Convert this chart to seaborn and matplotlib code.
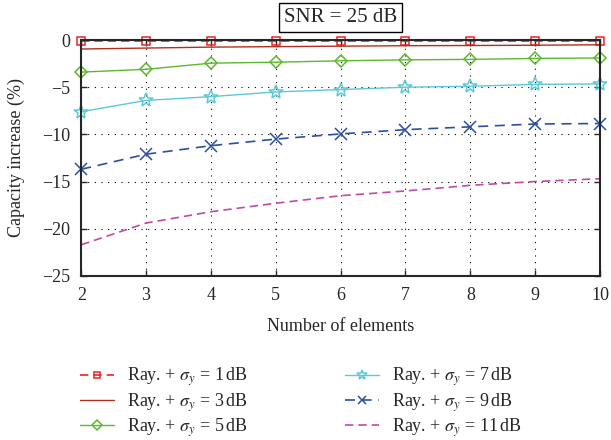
import numpy as np
import pandas as pd
import seaborn as sns
from matplotlib import pyplot as plt

elements = [2, 3, 4, 5, 6, 7, 8, 9, 10]
cap_1db = [-0.1, -0.1, -0.1, -0.1, -0.1, -0.1, -0.1, -0.1, -0.1]
cap_3db = [-0.95, -0.85, -0.75, -0.7, -0.65, -0.6, -0.58, -0.55, -0.5]
cap_5db = [-3.4, -3.1, -2.45, -2.35, -2.2, -2.1, -2.05, -1.95, -1.9]
cap_7db = [-7.6, -6.4, -6.0, -5.5, -5.25, -5.0, -4.9, -4.7, -4.65]
cap_9db = [-13.7, -12.1, -11.2, -10.5, -9.95, -9.5, -9.2, -8.9, -8.85]
cap_11db = [-21.7, -19.4, -18.2, -17.3, -16.5, -16.0, -15.4, -15.0, -14.7]
sigma_labels = ["1", "3", "5", "7", "9", "11"]

sns.set_style("ticks")
plt.rcParams['font.family'] = ['Liberation Serif', 'DejaVu Serif']
plt.rcParams['mathtext.fontset'] = 'stix'
plt.rcParams['axes.unicode_minus'] = True

series = [cap_1db, cap_3db, cap_5db, cap_7db, cap_9db, cap_11db]
colors = ['#e8262a', '#b0301e', '#5cb82e', '#5cc8d8', '#2c4fa3', '#c04aa8']
dashes = [(0, (5, 3)), '-', '-', '-', (0, (6, 4)), (0, (5, 3))]
markers = ['s', None, 'D', '*', 'x', None]
msizes = [6, 0, 6.5, 10, 8, 0]
widths = [1.2, 1.0, 1.0, 1.0, 1.2, 1.2]

fig, ax = plt.subplots(figsize=(6.11, 4.4), dpi=100)
fig.subplots_adjust(left=0.133, right=0.982, top=0.909, bottom=0.373)

for i, vals in enumerate(series):
    df = pd.DataFrame({'n': elements, 'cap': vals})
    sns.lineplot(data=df, x='n', y='cap', ax=ax, color=colors[i],
                 linestyle=dashes[i], lw=widths[i],
                 label=r'Ray. + $\sigma_y$ = ' + sigma_labels[i] + r'$\,$dB')
    line = ax.lines[-1]
    line.set_clip_on(False)
    if markers[i]:
        line.set_marker(markers[i])
        line.set_markersize(msizes[i])
        line.set_markerfacecolor('none')
        line.set_markeredgecolor(colors[i])
        line.set_markeredgewidth(1.1)

ax.set_xlim(2, 10)
ax.set_ylim(-25, 0)
ax.set_xticks(elements)
ax.set_yticks([0, -5, -10, -15, -20, -25])
ax.tick_params(direction='in', labelsize=13, length=4, width=1, pad=8,
               top=True, right=True)
ax.grid(True, color='black', linestyle=(0, (1, 5)), lw=0.8)
for s in ax.spines.values():
    s.set_linewidth(1.5)
    s.set_visible(True)

ax.set_xlabel('Number of elements', fontsize=13, labelpad=10)
ax.set_ylabel('Capacity increase (%)', fontsize=13, labelpad=12)
ax.text(0.5, 1.055, 'SNR = 25 dB', transform=ax.transAxes, ha='center', va='bottom',
        fontsize=15, bbox=dict(fc='white', ec='black', lw=1.0, pad=3.5))

ax.legend(loc='upper left', bbox_to_anchor=(-0.016, -0.35), ncol=2, frameon=False,
          fontsize=13, handlelength=1.9, columnspacing=5.4, labelspacing=0.15,
          handletextpad=0.7, borderaxespad=0, markerscale=0.75)

fig.savefig('out.png', dpi=100)
